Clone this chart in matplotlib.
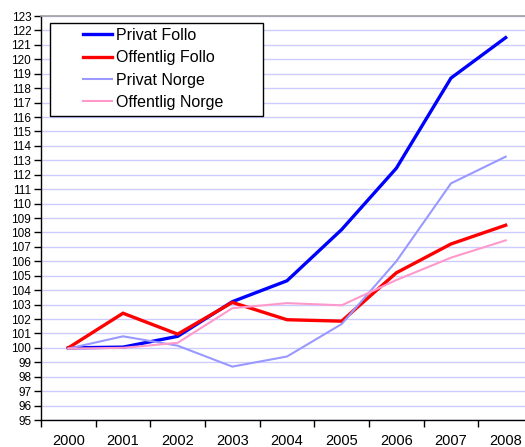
import numpy as np
import matplotlib.pyplot as plt
from matplotlib.patches import Rectangle
from matplotlib.ticker import FixedLocator, MultipleLocator

plt.rcParams['font.family'] = ['Liberation Sans', 'DejaVu Sans']

years = ["2000", "2001", "2002", "2003", "2004", "2005", "2006", "2007", "2008"]
privat_follo = [100.0, 100.05, 100.8, 103.2, 104.65, 108.2, 112.45, 118.7, 121.5]
offentlig_follo = [100.0, 102.4, 100.95, 103.15, 101.95, 101.85, 105.2, 107.2, 108.5]
privat_norge = [99.95, 100.8, 100.15, 98.7, 99.4, 101.65, 106.0, 111.4, 113.25]
offentlig_norge = [99.95, 100.0, 100.35, 102.75, 103.1, 102.95, 104.7, 106.25, 107.45]

series = [
    ("Privat Follo", privat_follo, "#0000FF", 2.4),
    ("Offentlig Follo", offentlig_follo, "#FF0000", 2.4),
    ("Privat Norge", privat_norge, "#9999FF", 1.5),
    ("Offentlig Norge", offentlig_norge, "#FF99CC", 1.5),
]

W, H = 525, 447
fig = plt.figure(figsize=(W / 100, H / 100), dpi=100)
ax = fig.add_axes([41 / W, 27 / H, 492 / W, 404 / H])

x = np.arange(len(years))
for label, vals, color, lw in series:
    ax.plot(x, vals, color=color, lw=lw, label=label, solid_joinstyle='miter')

ax.set_xlim(-0.5, 8.5)
ax.set_ylim(95, 123)
ax.yaxis.set_major_locator(MultipleLocator(1))
ax.grid(axis='y', color='#CCCCFF', lw=1.0)
ax.set_axisbelow(True)

ax.set_xticks(x)
ax.set_xticklabels(years, fontsize=10.5)
ax.tick_params(axis='x', which='major', length=0, pad=10)
ax.xaxis.set_minor_locator(FixedLocator(np.arange(-0.5, 9.0, 1.0)))
ax.tick_params(axis='x', which='minor', length=5, width=1, direction='out')
ax.tick_params(axis='y', labelsize=8.5, length=5, width=1, pad=2)

for side in ['left', 'bottom']:
    ax.spines[side].set_color('black')
    ax.spines[side].set_linewidth(1)
ax.spines['top'].set_color('#A0A0A0')
ax.spines['top'].set_linewidth(1.2)
ax.spines['right'].set_visible(False)

# legend box drawn separately (Excel style with wide margins)
box = Rectangle((50 / W, 1 - 116 / H), 213 / W, 93 / H, transform=fig.transFigure,
                facecolor='white', edgecolor='black', lw=1.0, zorder=4)
ax.add_artist(box)
box.set_clip_on(False)

leg = ax.legend(loc='upper left', bbox_to_anchor=(83 / W, 1 - 28 / H),
                bbox_transform=fig.transFigure, fontsize=11.5, frameon=False,
                handlelength=1.8, handletextpad=0.25, labelspacing=0.46,
                borderpad=0.0, borderaxespad=0.0)
leg.set_zorder(5)

fig.savefig("out.png", dpi=100)
